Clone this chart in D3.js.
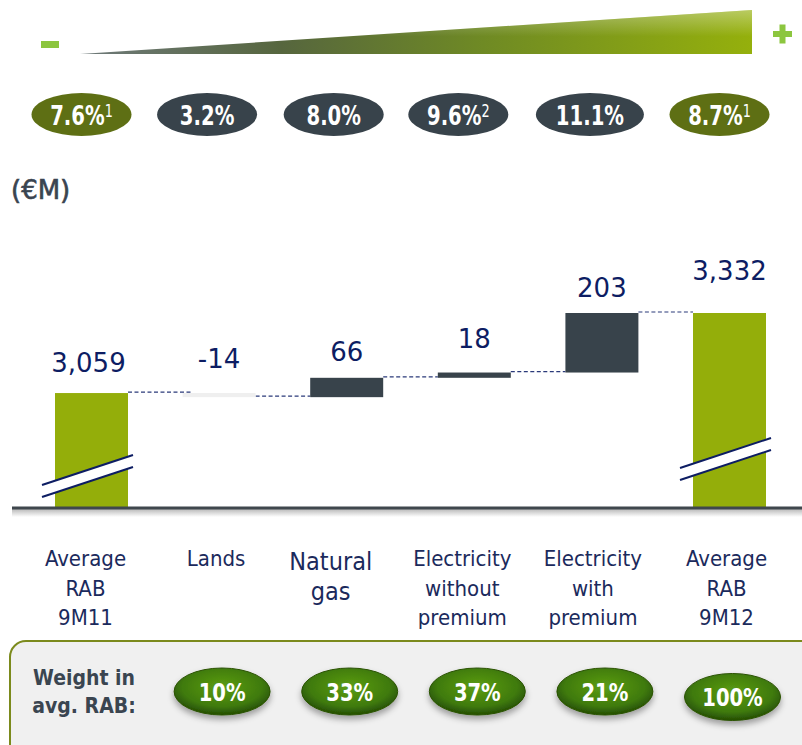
<!DOCTYPE html>
<html>
<head>
<meta charset="utf-8">
<script src="https://cdn.jsdelivr.net/npm/d3@7"></script>
<style>
  body { margin: 0; background: #fff; }
  svg { display: block; }
</style>
</head>
<body>
<div id="chart"></div>
<script>
// data
const categories = [
  ["Average", "RAB", "9M11"],
  ["Lands"],
  ["Natural", "gas"],
  ["Electricity", "without", "premium"],
  ["Electricity", "with", "premium"],
  ["Average", "RAB", "9M12"]
];
const kinds = ["total", "delta", "delta", "delta", "delta", "total"];
const values = [3059, -14, 66, 18, 203, 3332];
const valueLabels = ["3,059", "-14", "66", "18", "203", "3,332"];
const returnRates = ["7.6%", "3.2%", "8.0%", "9.6%", "11.1%", "8.7%"];
const returnNotes = ["1", "", "", "2", "", "1"];
const weights = ["", "10%", "33%", "37%", "21%", "100%"];
const axisFloor = 2667;

// layout
let width = 802;
let height = 745;
let baseY = 508;
let labelFont = "'DejaVu Sans Condensed', 'DejaVu Sans', sans-serif";
let numFont = "'DejaVu Sans', sans-serif";
let navy = "#0d1d63";
let labelOffsets = [21, 25, 17, 25, 16, 33];
let catDx = [-6, -3, -16, -12, -9, -3];
let pillDx = [-10, -12, -13, -16, -12, -10];

// running totals for the waterfall
let steps = [];
let running = 0;
values.forEach(function (v, i) {
  if (kinds[i] === "total") {
    steps.push({ i: i, y0: axisFloor, y1: v, top: v });
    running = v;
  } else {
    let start = running;
    running += v;
    steps.push({ i: i, y0: start, y1: running, top: Math.max(start, running) });
  }
});

let svg = d3.select("#chart").append("svg")
  .attr("width", width)
  .attr("height", height);

let defs = svg.append("defs");

let x = d3.scaleBand()
  .domain(d3.range(categories.length))
  .range([55, 766])
  .paddingInner(0.428)
  .paddingOuter(0);

let y = d3.scaleLinear()
  .domain([axisFloor, 3332])
  .range([baseY, 313]);

// wedge at the top
let wedgeGrad = defs.append("linearGradient").attr("id", "wedge");
wedgeGrad.append("stop").attr("offset", "0%").attr("stop-color", "#6f7a7b");
wedgeGrad.append("stop").attr("offset", "30%").attr("stop-color", "#56663e");
wedgeGrad.append("stop").attr("offset", "60%").attr("stop-color", "#6f8a24");
wedgeGrad.append("stop").attr("offset", "100%").attr("stop-color", "#95b00c");

let wedgeShine = defs.append("linearGradient").attr("id", "wedgeShine")
  .attr("x1", 0).attr("y1", 0).attr("x2", 0).attr("y2", 1);
wedgeShine.append("stop").attr("offset", "0%").attr("stop-color", "#fff").attr("stop-opacity", 0.35);
wedgeShine.append("stop").attr("offset", "60%").attr("stop-color", "#fff").attr("stop-opacity", 0);

let wedge = "M80,54 L752,54 L752,10 Z";
svg.append("path").attr("d", wedge).attr("fill", "url(#wedge)");
svg.append("path").attr("d", wedge).attr("fill", "url(#wedgeShine)");

svg.append("rect")
  .attr("x", 41).attr("y", 41).attr("width", 18).attr("height", 7)
  .attr("fill", "#8cc63f");
svg.append("rect")
  .attr("x", 773).attr("y", 31).attr("width", 19).attr("height", 6)
  .attr("fill", "#8cc63f");
svg.append("rect")
  .attr("x", 779.5).attr("y", 24.5).attr("width", 6).attr("height", 19)
  .attr("fill", "#8cc63f");

// return rate pills
let pill = svg.selectAll(".rate")
  .data(returnRates)
  .enter()
  .append("g")
  .attr("class", "rate")
  .attr("transform", function (d, i) {
    return `translate(${x(i) + x.bandwidth() / 2 + pillDx[i]}, 114.5)`;
  });

pill.append("ellipse")
  .attr("rx", function (d) { return d.length > 4 ? 54 : 50; })
  .attr("ry", 21.5)
  .attr("fill", function (d, i) { return kinds[i] === "total" ? "#5e6f14" : "#38434b"; });

let pillText = pill.append("text")
  .attr("text-anchor", "middle")
  .attr("y", 10)
  .attr("transform", "scale(0.84,1)")
  .attr("fill", "#fff")
  .style("font-family", labelFont)
  .style("font-weight", "bold")
  .style("font-size", "26px");

pillText.append("tspan").text(function (d) { return d; });
pillText.append("tspan")
  .attr("dy", -8)
  .style("font-size", "17px")
  .style("font-weight", "normal")
  .text(function (d, i) { return returnNotes[i]; });

// unit
svg.append("text")
  .attr("x", 11)
  .attr("y", 199)
  .attr("fill", "#3a4450")
  .attr("stroke", "#3a4450")
  .attr("stroke-width", 0.6)
  .style("font-family", numFont)
  .style("font-size", "26px")
  .text("(€M)");

// connectors
svg.selectAll(".connector")
  .data(steps.slice(0, -1))
  .enter()
  .append("line")
  .attr("class", "connector")
  .attr("x1", function (d) { return x(d.i) + x.bandwidth(); })
  .attr("x2", function (d) { return x(d.i + 1) + (d.i === 0 ? 9 : 0); })
  .attr("y1", function (d) { return y(d.y1) - 1; })
  .attr("y2", function (d) { return y(d.y1) - 1; })
  .attr("stroke", "#2b3a7a")
  .attr("stroke-width", 1.2)
  .attr("stroke-dasharray", "4,2.5");

// bars
svg.selectAll(".bar")
  .data(steps)
  .enter()
  .append("rect")
  .attr("class", "bar")
  .attr("x", function (d) { return x(d.i); })
  .attr("width", x.bandwidth())
  .attr("y", function (d) { return y(Math.max(d.y0, d.y1)); })
  .attr("height", function (d) { return Math.abs(y(d.y0) - y(d.y1)); })
  .attr("fill", function (d) {
    if (kinds[d.i] === "total") return "#94ae0a";
    return values[d.i] < 0 ? "#efefef" : "#38434b";
  });

// axis break marks on the total bars
let breaks = svg.selectAll(".break")
  .data(steps.filter(function (d) { return kinds[d.i] === "total"; }))
  .enter()
  .append("g")
  .attr("class", "break")
  .attr("transform", function (d) {
    let by = d.i === 0 ? 476 : 459;
    return `translate(${x(d.i) - 13}, ${by})`;
  });

breaks.append("path")
  .attr("d", "M0,9 L91,-21 L91,-9 L0,21 Z")
  .attr("fill", "#fff");
breaks.append("line")
  .attr("x1", 0).attr("y1", 9).attr("x2", 91).attr("y2", -21)
  .attr("stroke", navy).attr("stroke-width", 2);
breaks.append("line")
  .attr("x1", 0).attr("y1", 21).attr("x2", 91).attr("y2", -9)
  .attr("stroke", navy).attr("stroke-width", 2);

// value labels
svg.selectAll(".value")
  .data(steps)
  .enter()
  .append("text")
  .attr("class", "value")
  .attr("text-anchor", "middle")
  .attr("x", function (d) { return x(d.i) + x.bandwidth() / 2 + (d.i === 0 ? -3 : 0); })
  .attr("y", function (d) { return y(d.top) - labelOffsets[d.i]; })
  .attr("fill", navy)
  .style("font-family", numFont)
  .style("font-size", "26px")
  .text(function (d) { return valueLabels[d.i]; });

// baseline with a soft shadow
let shadow = defs.append("linearGradient").attr("id", "baseShadow")
  .attr("x1", 0).attr("y1", 0).attr("x2", 0).attr("y2", 1);
shadow.append("stop").attr("offset", "0%").attr("stop-color", "#b8b8b8");
shadow.append("stop").attr("offset", "100%").attr("stop-color", "#fff");
svg.append("rect")
  .attr("x", 12).attr("y", baseY + 1).attr("width", width - 12).attr("height", 8)
  .attr("fill", "url(#baseShadow)");
svg.append("line")
  .attr("x1", 12).attr("x2", width)
  .attr("y1", baseY).attr("y2", baseY)
  .attr("stroke", "#3f474d")
  .attr("stroke-width", 3);

// category labels
let cat = svg.selectAll(".category")
  .data(categories)
  .enter()
  .append("text")
  .attr("class", "category")
  .attr("text-anchor", "middle")
  .attr("fill", "#1b2a5c")
  .style("font-family", labelFont)
  .style("font-size", function (d, i) { return i === 2 ? "25px" : "22px"; })
  .attr("transform", function (d, i) {
    return `translate(${x(i) + x.bandwidth() / 2 + catDx[i]}, ${i === 2 ? 570 : 566})`;
  });

cat.selectAll("tspan")
  .data(function (d) { return d; })
  .enter()
  .append("tspan")
  .attr("x", 0)
  .attr("dy", function (d, j) { return j === 0 ? 0 : 29.5; })
  .text(function (d) { return d; });

// weight panel
svg.append("rect")
  .attr("x", 10).attr("y", 641)
  .attr("width", 810).attr("height", 130)
  .attr("rx", 16)
  .attr("fill", "#f0f0f0")
  .attr("stroke", "#7b8a1c")
  .attr("stroke-width", 2);

let weightTitle = svg.append("text")
  .attr("text-anchor", "middle")
  .attr("fill", "#3a4550")
  .style("font-family", labelFont)
  .style("font-weight", "bold")
  .style("font-size", "21px")
  .attr("transform", "translate(84, 685)");
weightTitle.append("tspan").attr("x", 0).text("Weight in");
weightTitle.append("tspan").attr("x", 0).attr("dy", 28).text("avg. RAB:");

let green = defs.append("radialGradient").attr("id", "greenPill")
  .attr("cx", "50%").attr("cy", "40%").attr("r", "60%");
green.append("stop").attr("offset", "0%").attr("stop-color", "#5c9d14");
green.append("stop").attr("offset", "70%").attr("stop-color", "#3f7a0c");
green.append("stop").attr("offset", "100%").attr("stop-color", "#244d04");

let drop = defs.append("filter").attr("id", "drop")
  .attr("x", "-30%").attr("y", "-30%").attr("width", "160%").attr("height", "180%");
drop.append("feDropShadow")
  .attr("dx", 0).attr("dy", 4).attr("stdDeviation", 3)
  .attr("flood-color", "#000").attr("flood-opacity", 0.35);

let weightPill = svg.selectAll(".weight")
  .data(weights.map(function (w, i) { return { w: w, i: i }; }).filter(function (d) { return d.w; }))
  .enter()
  .append("g")
  .attr("class", "weight")
  .attr("transform", function (d) {
    let cy = kinds[d.i] === "total" ? 697 : 691.5;
    return `translate(${x(d.i) + x.bandwidth() / 2 + (d.i === 5 ? 3 : 3)}, ${cy})`;
  });

weightPill.append("ellipse")
  .attr("rx", 48).attr("ry", 23.5)
  .attr("fill", "url(#greenPill)")
  .attr("stroke", "#2a5206")
  .attr("stroke-width", 1)
  .attr("filter", "url(#drop)");

weightPill.append("text")
  .attr("text-anchor", "middle")
  .attr("y", 9)
  .attr("transform", "scale(0.87,1)")
  .attr("fill", "#fff")
  .style("font-family", labelFont)
  .style("font-weight", "bold")
  .style("font-size", "25px")
  .text(function (d) { return d.w; });
</script>
</body>
</html>
